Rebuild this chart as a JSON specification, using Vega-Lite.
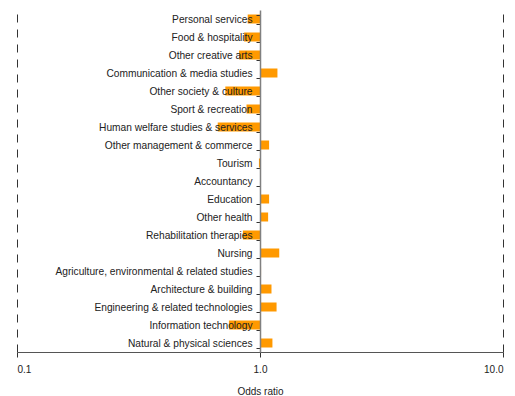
{
  "$schema": "https://vega.github.io/schema/vega-lite/v6.json",
  "autosize": {"type": "none"},
  "width": 486,
  "height": 342,
  "padding": {"left": 17, "top": 10, "right": 12, "bottom": 44},
  "background": "white",
  "config": {
    "view": {"stroke": null},
    "font": "Liberation Sans",
    "axis": {"labelFont": "Liberation Sans", "titleFont": "Liberation Sans"}
  },
  "data": {
    "values": [
      {"field": "Personal services", "odds": 0.89},
      {"field": "Food & hospitality", "odds": 0.86},
      {"field": "Other creative arts", "odds": 0.82},
      {"field": "Communication & media studies", "odds": 1.18},
      {"field": "Other society & culture", "odds": 0.72},
      {"field": "Sport & recreation", "odds": 0.88},
      {"field": "Human welfare studies & services", "odds": 0.67},
      {"field": "Other management & commerce", "odds": 1.09},
      {"field": "Tourism", "odds": 0.99},
      {"field": "Accountancy", "odds": 1.0},
      {"field": "Education", "odds": 1.09},
      {"field": "Other health", "odds": 1.08},
      {"field": "Rehabilitation therapies", "odds": 0.85},
      {"field": "Nursing", "odds": 1.2},
      {"field": "Agriculture, environmental & related studies", "odds": 1.01},
      {"field": "Architecture & building", "odds": 1.115},
      {"field": "Engineering & related technologies", "odds": 1.17},
      {"field": "Information technology", "odds": 0.745},
      {"field": "Natural & physical sciences", "odds": 1.125}
    ]
  },
  "mark": {"type": "bar", "color": "#FF9900"},
  "encoding": {
    "y": {
      "field": "field",
      "type": "nominal",
      "sort": null,
      "scale": {"paddingInner": 0.5, "paddingOuter": 0.25},
      "axis": {
        "title": null,
        "zindex": 1,
        "offset": -243,
        "domainColor": "#808080",
        "domainWidth": 1.5,
        "tickColor": "#333333",
        "tickSize": 4,
        "tickBand": "extent",
        "labelPadding": 4,
        "labelFontSize": 10.2,
        "labelColor": "#222222",
        "labelLimit": 400,
        "grid": false
      }
    },
    "x": {
      "field": "odds",
      "type": "quantitative",
      "scale": {"type": "log", "domain": [0.1, 10], "nice": false},
      "axis": {
        "title": "Odds ratio",
        "zindex": 1,
        "titleFontSize": 10,
        "titleFontWeight": "normal",
        "titleColor": "#222222",
        "titlePadding": 12,
        "values": [0.1, 1, 10],
        "format": ".1f",
        "labelFontSize": 10,
        "labelColor": "#222222",
        "labelPadding": 7,
        "domainColor": "#555555",
        "tickColor": "#333333",
        "tickSize": 5,
        "grid": true,
        "gridColor": "#333333",
        "gridDash": [8, 7],
        "gridWidth": 1
      }
    },
    "x2": {"datum": 1}
  }
}
